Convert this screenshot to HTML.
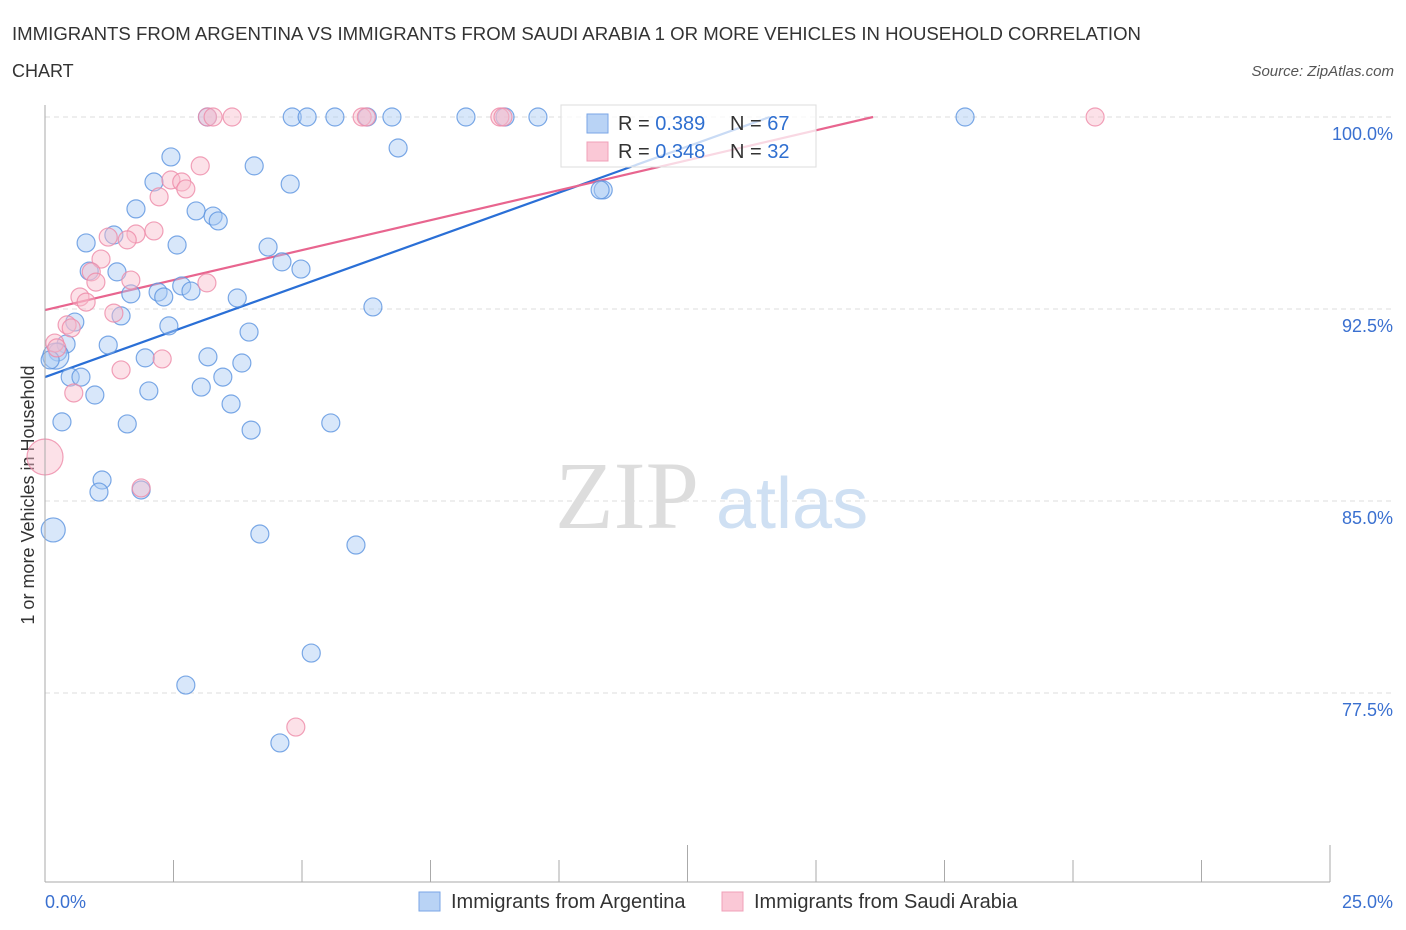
<!DOCTYPE html>
<html><head><meta charset="utf-8"><style>
body{margin:0;background:#fff;font-family:"Liberation Sans",sans-serif;}
svg{display:block}
</style></head><body>
<svg width="1406" height="930" id="chart">
<text x="12" y="40" font-size="18" fill="#333" textLength="1129" lengthAdjust="spacingAndGlyphs">IMMIGRANTS FROM ARGENTINA VS IMMIGRANTS FROM SAUDI ARABIA 1 OR MORE VEHICLES IN HOUSEHOLD CORRELATION</text>
<text x="12" y="77" font-size="18" fill="#333">CHART</text>
<text x="1394" y="76" font-size="15" fill="#555" font-style="italic" text-anchor="end">Source: ZipAtlas.com</text>
<text x="0" y="0" transform="translate(34,495) rotate(-90)" font-size="18" fill="#333" text-anchor="middle">1 or more Vehicles in Household</text>
<g id="grid"></g>
<text x="555" y="528" font-size="96" fill="#ddd" font-family="Liberation Serif,serif">ZIP</text>
<text x="716" y="528" font-size="72" fill="#cfe0f3">atlas</text>
<g id="lines"></g>
<g id="pts"></g>
<g id="axes"></g>
<g>
<rect x="561" y="105" width="255" height="62" fill="#fff" fill-opacity="0.75" stroke="#ddd"/>
<rect x="587" y="114" width="21" height="19" fill="#b9d3f5" stroke="#7aa6e6"/>
<rect x="587" y="142" width="21" height="19" fill="#fac8d6" stroke="#f0a0b8"/>
<text x="618" y="130" font-size="20" fill="#333">R = <tspan fill="#2f6fd0">0.389</tspan></text>
<text x="730" y="130" font-size="20" fill="#333">N = <tspan fill="#2f6fd0">67</tspan></text>
<text x="618" y="158" font-size="20" fill="#333">R = <tspan fill="#2f6fd0">0.348</tspan></text>
<text x="730" y="158" font-size="20" fill="#333">N = <tspan fill="#2f6fd0">32</tspan></text>
</g>
<g>
<rect x="419" y="892" width="21" height="19" fill="#b9d3f5" stroke="#7aa6e6"/>
<text x="451" y="908" font-size="20" fill="#333">Immigrants from Argentina</text>
<rect x="722" y="892" width="21" height="19" fill="#fac8d6" stroke="#f0a0b8"/>
<text x="754" y="908" font-size="20" fill="#333">Immigrants from Saudi Arabia</text>
</g>
</svg>
<script>
const yTicks=[100,92.5,85,77.5];
const yTickLabels=["100.0%","92.5%","85.0%","77.5%"];
const xTickLabels=["0.0%","25.0%"];
const argX=[3.16,4.81,5.10,5.64,6.27,6.75,8.19,8.95,9.59,17.9,6.87,2.45,4.07,2.12,4.77,1.77,2.94,3.27,3.37,10.86,10.80,1.34,0.80,2.57,4.34,4.61,4.98,0.86,1.40,2.66,2.20,1.67,2.31,2.84,3.74,6.38,1.48,0.58,2.41,3.97,0.41,1.23,0.25,0.21,1.95,3.17,3.83,0.10,0.49,0.70,3.46,3.04,2.02,0.97,3.62,0.33,1.60,4.01,5.56,1.11,1.05,1.87,0.16,4.18,6.05,5.18,2.74,4.57];
const argY=[100,100,100,100,100,100,100,100,100,100,98.79,98.44,98.09,97.46,97.38,96.41,96.33,96.13,95.94,97.15,97.15,95.39,95.08,95.0,94.92,94.34,94.06,93.98,93.95,93.4,93.16,93.09,92.97,93.2,92.93,92.58,92.23,91.99,91.84,91.6,91.13,91.09,90.82,90.66,90.59,90.63,90.39,90.51,89.84,89.84,89.84,89.45,89.3,89.14,88.79,88.09,88.01,87.77,88.05,85.82,85.35,85.43,83.87,83.71,83.28,79.06,77.81,75.55];
const argR=[9,9,9,9,9,9,9,9,9,9,9,9,9,9,9,9,9,9,9,9,9,9,9,9,9,9,9,9,9,9,9,9,9,9,9,9,9,9,9,9,9,9,9,13,9,9,9,9,9,9,9,9,9,9,9,9,9,9,9,9,9,9,12,9,9,9,9,9];
const sauX=[3.16,3.27,3.64,6.17,6.25,8.85,8.91,20.43,3.02,2.45,2.66,2.74,2.22,2.12,1.23,1.77,1.60,1.09,0.90,1.67,0.99,3.15,0.68,0.80,1.34,0.43,0.51,0.19,0.23,2.28,1.48,0.56,1.87,4.88,0.0];
const sauY=[100,100,100,100,100,100,100,100,98.09,97.54,97.46,97.19,96.88,95.55,95.31,95.43,95.2,94.45,93.95,93.63,93.55,93.52,92.97,92.77,92.34,91.88,91.76,91.17,90.98,90.55,90.12,89.22,85.51,76.17,86.72];
const sauR=[9,9,9,9,9,9,9,9,9,9,9,9,9,9,9,9,9,9,9,9,9,9,9,9,9,9,9,9,9,9,9,9,9,9,18];
const argTrend=[[0,89.84],[14.1,100]];
const sauTrend=[[0,92.46],[16.11,100]];
const X=v=>45+v*(1330-45)/25, Y=v=>117+(100-v)*25.6;
const NS="http://www.w3.org/2000/svg";
function mk(t,a,p){const e=document.createElementNS(NS,t);for(const k in a)e.setAttribute(k,a[k]);p.appendChild(e);return e;}
const g=document.getElementById('grid');
yTicks.forEach((t,i)=>{
 const l=mk('line',{x1:45,x2:1393,y1:Y(t),y2:Y(t),stroke:'#ddd','stroke-dasharray':'5,4'},g);
 
 
 const tx=mk('text',{x:1393,y:Y(t)+23,'font-size':18,fill:'#3a70d0','text-anchor':'end'},g);
 tx.textContent=yTickLabels[i];
 
 
});
const ax=document.getElementById('axes');
const ya=mk('line',{x1:45,x2:45,y1:105,y2:882,stroke:'#aaa'},ax);


const xa=mk('line',{x1:45,x2:1330,y1:882,y2:882,stroke:'#aaa'},ax);


for(let i=0;i<=10;i++){const t=mk('line',{x1:X(i*2.5),x2:X(i*2.5),y1:882,y2:i%5==0?845:860,stroke:'#aaa'},ax);
 
 }
[[0,'start'],[25,'end']].forEach((d,i)=>{const t=mk('text',{x:d[0]==0?45:1393,y:908,'font-size':18,fill:'#3a70d0','text-anchor':d[1]},ax);t.textContent=xTickLabels[i];
 
 });
const pg=document.getElementById('pts');
function pts(xs,ys,rs,fill,stroke,name){xs.forEach((x,i)=>{const c=mk('circle',{cx:X(x),cy:Y(ys[i]),r:rs[i],fill:fill,'fill-opacity':0.45,stroke:stroke,'stroke-opacity':0.8,'stroke-width':1.2},pg);
 
 });}
pts(argX,argY,argR,'#a9c9f3','#5b93e0','point-argentina');
pts(sauX,sauY,sauR,'#f9bccd','#ee8aa8','point-saudi');
const lg=document.getElementById('lines');
const l1=mk('line',{x1:X(argTrend[0][0]),y1:Y(argTrend[0][1]),x2:X(argTrend[1][0]),y2:Y(argTrend[1][1]),stroke:'#2a6fd6','stroke-width':2.2},lg);


const l2=mk('line',{x1:X(sauTrend[0][0]),y1:Y(sauTrend[0][1]),x2:X(sauTrend[1][0]),y2:Y(sauTrend[1][1]),stroke:'#e8658f','stroke-width':2.2},lg);


</script>
</body></html>
